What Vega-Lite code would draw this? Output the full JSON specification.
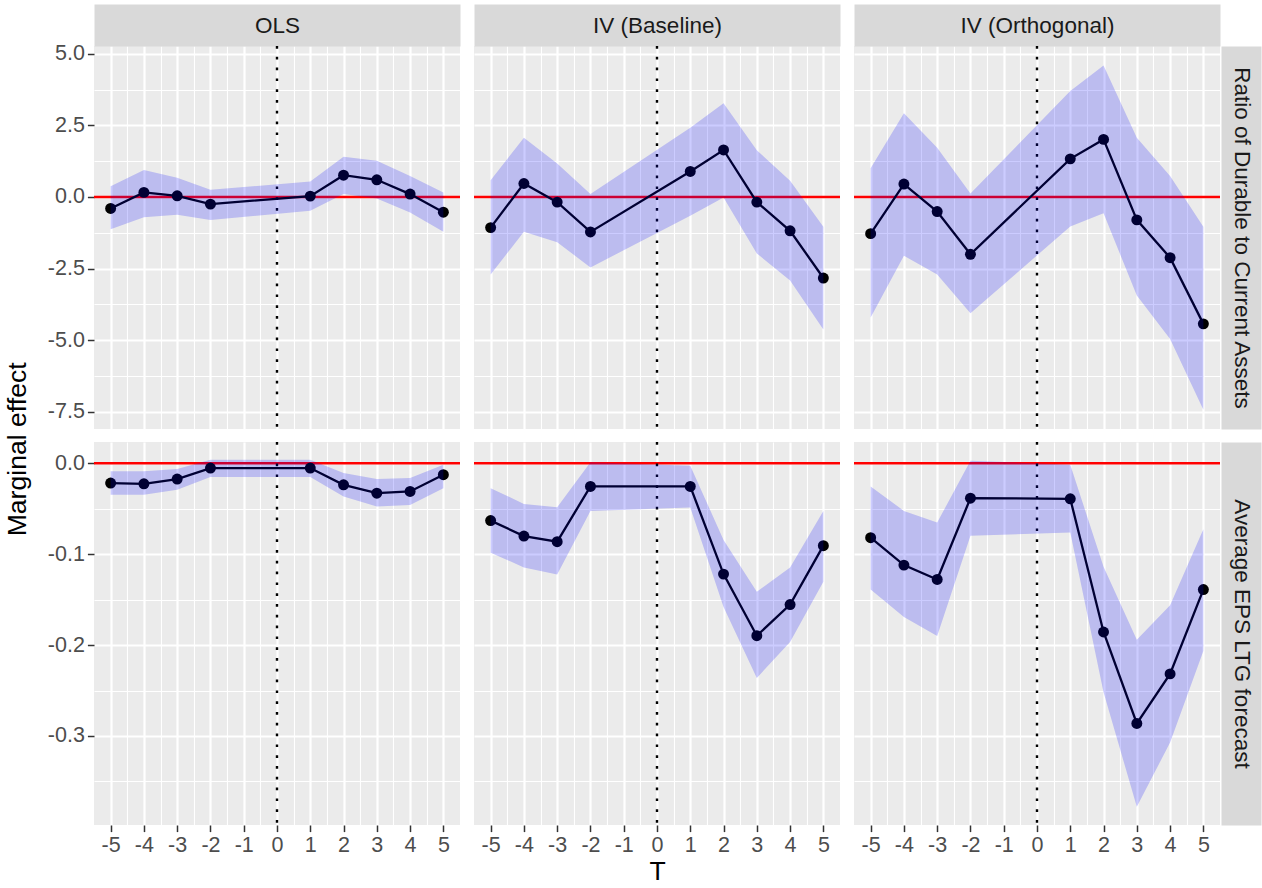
{
  "$schema": "https://vega.github.io/schema/vega-lite/v6.json",
  "padding": {"left": 4, "top": 14, "right": 10, "bottom": 0},
  "background": "#ffffff",
  "config": {
    "locale": {"number": {"decimal": ".", "thousands": ",", "grouping": [3], "currency": ["$", ""], "minus": "-"}},
    "view": {"fill": "#ebebeb", "stroke": null},
    "axis": {
      "domain": false,
      "gridColor": "#ffffff",
      "gridOpacity": 1,
      "tickColor": "#333333",
      "tickWidth": 1.5,
      "tickSize": 6.6,
      "labelColor": "#4d4d4d",
      "labelFont": "Liberation Sans",
      "labelFontSize": 21.5,
      "labelPadding": 3,
      "labelFlush": false,
      "labelOverlap": false,
      "titleFont": "Liberation Sans",
      "titleFontSize": 26.6,
      "titleFontWeight": "normal",
      "titleColor": "#000000"
    }
  },
  "data": {
    "values": [
      {"model": "OLS", "outcome": "durable", "T": -5, "est": -0.40, "lo": -1.13, "hi": 0.37},
      {"model": "OLS", "outcome": "durable", "T": -4, "est": 0.16, "lo": -0.71, "hi": 0.94},
      {"model": "OLS", "outcome": "durable", "T": -3, "est": 0.04, "lo": -0.62, "hi": 0.67},
      {"model": "OLS", "outcome": "durable", "T": -2, "est": -0.25, "lo": -0.80, "hi": 0.25},
      {"model": "OLS", "outcome": "durable", "T": 1, "est": 0.03, "lo": -0.48, "hi": 0.54},
      {"model": "OLS", "outcome": "durable", "T": 2, "est": 0.76, "lo": 0.10, "hi": 1.40},
      {"model": "OLS", "outcome": "durable", "T": 3, "est": 0.60, "lo": -0.05, "hi": 1.26},
      {"model": "OLS", "outcome": "durable", "T": 4, "est": 0.10, "lo": -0.54, "hi": 0.73},
      {"model": "OLS", "outcome": "durable", "T": 5, "est": -0.53, "lo": -1.21, "hi": 0.16},
      {"model": "IVB", "outcome": "durable", "T": -5, "est": -1.07, "lo": -2.71, "hi": 0.58},
      {"model": "IVB", "outcome": "durable", "T": -4, "est": 0.47, "lo": -1.21, "hi": 2.07},
      {"model": "IVB", "outcome": "durable", "T": -3, "est": -0.18, "lo": -1.58, "hi": 1.17},
      {"model": "IVB", "outcome": "durable", "T": -2, "est": -1.22, "lo": -2.46, "hi": 0.10},
      {"model": "IVB", "outcome": "durable", "T": 1, "est": 0.89, "lo": -0.66, "hi": 2.42},
      {"model": "IVB", "outcome": "durable", "T": 2, "est": 1.64, "lo": -0.02, "hi": 3.27},
      {"model": "IVB", "outcome": "durable", "T": 3, "est": -0.18, "lo": -1.97, "hi": 1.63},
      {"model": "IVB", "outcome": "durable", "T": 4, "est": -1.18, "lo": -2.92, "hi": 0.57},
      {"model": "IVB", "outcome": "durable", "T": 5, "est": -2.83, "lo": -4.63, "hi": -1.04},
      {"model": "IVO", "outcome": "durable", "T": -5, "est": -1.28, "lo": -4.21, "hi": 1.00},
      {"model": "IVO", "outcome": "durable", "T": -4, "est": 0.45, "lo": -2.05, "hi": 2.92},
      {"model": "IVO", "outcome": "durable", "T": -3, "est": -0.51, "lo": -2.71, "hi": 1.72},
      {"model": "IVO", "outcome": "durable", "T": -2, "est": -2.00, "lo": -4.06, "hi": 0.12},
      {"model": "IVO", "outcome": "durable", "T": 1, "est": 1.33, "lo": -1.03, "hi": 3.70},
      {"model": "IVO", "outcome": "durable", "T": 2, "est": 2.01, "lo": -0.57, "hi": 4.59},
      {"model": "IVO", "outcome": "durable", "T": 3, "est": -0.80, "lo": -3.44, "hi": 2.07},
      {"model": "IVO", "outcome": "durable", "T": 4, "est": -2.12, "lo": -4.96, "hi": 0.73},
      {"model": "IVO", "outcome": "durable", "T": 5, "est": -4.43, "lo": -7.43, "hi": -1.04},
      {"model": "OLS", "outcome": "eps", "T": -5, "est": -0.0217, "lo": -0.0346, "hi": -0.0088},
      {"model": "OLS", "outcome": "eps", "T": -4, "est": -0.0225, "lo": -0.0346, "hi": -0.0088},
      {"model": "OLS", "outcome": "eps", "T": -3, "est": -0.0173, "lo": -0.0291, "hi": -0.0063},
      {"model": "OLS", "outcome": "eps", "T": -2, "est": -0.0052, "lo": -0.0151, "hi": 0.0041},
      {"model": "OLS", "outcome": "eps", "T": 1, "est": -0.0052, "lo": -0.0151, "hi": 0.0040},
      {"model": "OLS", "outcome": "eps", "T": 2, "est": -0.0236, "lo": -0.0365, "hi": -0.0107},
      {"model": "OLS", "outcome": "eps", "T": 3, "est": -0.0328, "lo": -0.0475, "hi": -0.0173},
      {"model": "OLS", "outcome": "eps", "T": 4, "est": -0.0309, "lo": -0.0457, "hi": -0.0162},
      {"model": "OLS", "outcome": "eps", "T": 5, "est": -0.0125, "lo": -0.0273, "hi": -0.0015},
      {"model": "IVB", "outcome": "eps", "T": -5, "est": -0.0630, "lo": -0.0983, "hi": -0.0273},
      {"model": "IVB", "outcome": "eps", "T": -4, "est": -0.0800, "lo": -0.1145, "hi": -0.0446},
      {"model": "IVB", "outcome": "eps", "T": -3, "est": -0.0862, "lo": -0.1223, "hi": -0.0483},
      {"model": "IVB", "outcome": "eps", "T": -2, "est": -0.0254, "lo": -0.0523, "hi": 0.0011},
      {"model": "IVB", "outcome": "eps", "T": 1, "est": -0.0254, "lo": -0.0486, "hi": -0.0026},
      {"model": "IVB", "outcome": "eps", "T": 2, "est": -0.1219, "lo": -0.1580, "hi": -0.0843},
      {"model": "IVB", "outcome": "eps", "T": 3, "est": -0.1897, "lo": -0.2361, "hi": -0.1414},
      {"model": "IVB", "outcome": "eps", "T": 4, "est": -0.1554, "lo": -0.1967, "hi": -0.1145},
      {"model": "IVB", "outcome": "eps", "T": 5, "est": -0.0906, "lo": -0.1304, "hi": -0.0523},
      {"model": "IVO", "outcome": "eps", "T": -5, "est": -0.0818, "lo": -0.1389, "hi": -0.0254},
      {"model": "IVO", "outcome": "eps", "T": -4, "est": -0.1120, "lo": -0.1690, "hi": -0.0523},
      {"model": "IVO", "outcome": "eps", "T": -3, "est": -0.1278, "lo": -0.1900, "hi": -0.0652},
      {"model": "IVO", "outcome": "eps", "T": -2, "est": -0.0383, "lo": -0.0796, "hi": 0.0030},
      {"model": "IVO", "outcome": "eps", "T": 1, "est": -0.0390, "lo": -0.0762, "hi": -0.0015},
      {"model": "IVO", "outcome": "eps", "T": 2, "est": -0.1856, "lo": -0.2520, "hi": -0.1138},
      {"model": "IVO", "outcome": "eps", "T": 3, "est": -0.2862, "lo": -0.3780, "hi": -0.1941},
      {"model": "IVO", "outcome": "eps", "T": 4, "est": -0.2317, "lo": -0.3072, "hi": -0.1562},
      {"model": "IVO", "outcome": "eps", "T": 5, "est": -0.1389, "lo": -0.2066, "hi": -0.0726}
    ]
  },
  "title": {"text": "Marginal effect", "orient": "left", "anchor": "middle", "font": "Liberation Sans", "fontSize": 26.6, "fontWeight": "normal", "color": "#000000", "offset": 16},
  "bounds": "flush",
  "columns": 3,
  "spacing": {"row": 13, "column": 14},
  "concat": [
    {
      "width": 366, "height": 383,
      "transform": [{"filter": "datum.model === 'OLS' && datum.outcome === 'durable'"}],
      "resolve": {"axis": {"x": "independent", "y": "independent"}},
      "layer": [
        {"transform": [{"aggregate": [{"op": "count", "as": "n"}]}], "mark": {"type": "rule", "color": "#ff0000", "strokeWidth": 2.5}, "encoding": {"y": {"datum": 0, "type": "quantitative", "scale": {"domain": [-8.1, 5.27], "nice": false, "zero": false}, "axis": null}}},
        {"transform": [{"aggregate": [{"op": "count", "as": "n"}]}], "mark": {"type": "rule", "color": "#000000", "strokeWidth": 2.4, "strokeDash": [2.7, 8.1]}, "encoding": {"x": {"datum": 0, "type": "quantitative", "scale": {"domain": [-5.5, 5.5], "nice": false, "zero": false}, "axis": {"orient": "bottom", "values": [-4.5, -3.5, -2.5, -1.5, -0.5, 0.5, 1.5, 2.5, 3.5, 4.5], "grid": true, "gridWidth": 1.1, "labels": false, "ticks": false, "title": null}}}},
        {"mark": {"type": "line", "color": "#000000", "strokeWidth": 2.3}, "encoding": {
          "x": {"field": "T", "type": "quantitative", "scale": {"domain": [-5.5, 5.5], "nice": false, "zero": false}, "axis": {"orient": "bottom", "values": [-5, -4, -3, -2, -1, 0, 1, 2, 3, 4, 5], "grid": true, "gridWidth": 2.2, "labels": false, "ticks": false, "title": null}},
          "y": {"field": "est", "type": "quantitative", "scale": {"domain": [-8.1, 5.27], "nice": false, "zero": false}, "axis": {"orient": "left", "values": [-7.5, -5, -2.5, 0, 2.5, 5], "grid": true, "gridWidth": 2.2, "title": null, "format": ".1f"}}}},
        {"mark": {"type": "point", "filled": true, "color": "#000000", "opacity": 1, "size": 120}, "encoding": {
          "x": {"field": "T", "type": "quantitative", "axis": {"orient": "top", "offset": 21, "grid": false, "labels": false, "ticks": false, "domain": true, "domainColor": "#d9d9d9", "domainWidth": 42, "domainCap": "butt", "title": "OLS", "titleX": 183, "titleY": 0, "titleAlign": "center", "titleBaseline": "middle", "titleAngle": 0, "titleFontSize": 22.5, "titleColor": "#1a1a1a"}},
          "y": {"field": "est", "type": "quantitative", "axis": null}}},
        {"mark": {"type": "area", "color": "#0000ff", "opacity": 0.2}, "encoding": {"x": {"field": "T", "type": "quantitative", "axis": null}, "y": {"field": "lo", "type": "quantitative", "axis": {"orient": "left", "values": [-6.25, -3.75, -1.25, 1.25, 3.75], "grid": true, "gridWidth": 1.1, "labels": false, "ticks": false, "title": null}}, "y2": {"field": "hi"}}}
      ]
    },
    {
      "width": 366, "height": 383,
      "transform": [{"filter": "datum.model === 'IVB' && datum.outcome === 'durable'"}],
      "resolve": {"axis": {"x": "independent", "y": "independent"}},
      "layer": [
        {"transform": [{"aggregate": [{"op": "count", "as": "n"}]}], "mark": {"type": "rule", "color": "#ff0000", "strokeWidth": 2.5}, "encoding": {"y": {"datum": 0, "type": "quantitative", "scale": {"domain": [-8.1, 5.27], "nice": false, "zero": false}, "axis": null}}},
        {"transform": [{"aggregate": [{"op": "count", "as": "n"}]}], "mark": {"type": "rule", "color": "#000000", "strokeWidth": 2.4, "strokeDash": [2.7, 8.1]}, "encoding": {"x": {"datum": 0, "type": "quantitative", "scale": {"domain": [-5.5, 5.5], "nice": false, "zero": false}, "axis": {"orient": "bottom", "values": [-4.5, -3.5, -2.5, -1.5, -0.5, 0.5, 1.5, 2.5, 3.5, 4.5], "grid": true, "gridWidth": 1.1, "labels": false, "ticks": false, "title": null}}}},
        {"mark": {"type": "line", "color": "#000000", "strokeWidth": 2.3}, "encoding": {
          "x": {"field": "T", "type": "quantitative", "scale": {"domain": [-5.5, 5.5], "nice": false, "zero": false}, "axis": {"orient": "bottom", "values": [-5, -4, -3, -2, -1, 0, 1, 2, 3, 4, 5], "grid": true, "gridWidth": 2.2, "labels": false, "ticks": false, "title": null}},
          "y": {"field": "est", "type": "quantitative", "scale": {"domain": [-8.1, 5.27], "nice": false, "zero": false}, "axis": {"orient": "left", "values": [-7.5, -5, -2.5, 0, 2.5, 5], "grid": true, "gridWidth": 2.2, "labels": false, "ticks": false, "title": null}}}},
        {"mark": {"type": "point", "filled": true, "color": "#000000", "opacity": 1, "size": 120}, "encoding": {
          "x": {"field": "T", "type": "quantitative", "axis": {"orient": "top", "offset": 21, "grid": false, "labels": false, "ticks": false, "domain": true, "domainColor": "#d9d9d9", "domainWidth": 42, "domainCap": "butt", "title": "IV (Baseline)", "titleX": 183, "titleY": 0, "titleAlign": "center", "titleBaseline": "middle", "titleAngle": 0, "titleFontSize": 22.5, "titleColor": "#1a1a1a"}},
          "y": {"field": "est", "type": "quantitative", "axis": null}}},
        {"mark": {"type": "area", "color": "#0000ff", "opacity": 0.2}, "encoding": {"x": {"field": "T", "type": "quantitative", "axis": null}, "y": {"field": "lo", "type": "quantitative", "axis": {"orient": "left", "values": [-6.25, -3.75, -1.25, 1.25, 3.75], "grid": true, "gridWidth": 1.1, "labels": false, "ticks": false, "title": null}}, "y2": {"field": "hi"}}}
      ]
    },
    {
      "width": 366, "height": 383,
      "transform": [{"filter": "datum.model === 'IVO' && datum.outcome === 'durable'"}],
      "resolve": {"axis": {"x": "independent", "y": "independent"}},
      "layer": [
        {"transform": [{"aggregate": [{"op": "count", "as": "n"}]}], "mark": {"type": "rule", "color": "#ff0000", "strokeWidth": 2.5}, "encoding": {"y": {"datum": 0, "type": "quantitative", "scale": {"domain": [-8.1, 5.27], "nice": false, "zero": false}, "axis": null}}},
        {"transform": [{"aggregate": [{"op": "count", "as": "n"}]}], "mark": {"type": "rule", "color": "#000000", "strokeWidth": 2.4, "strokeDash": [2.7, 8.1]}, "encoding": {"x": {"datum": 0, "type": "quantitative", "scale": {"domain": [-5.5, 5.5], "nice": false, "zero": false}, "axis": {"orient": "bottom", "values": [-4.5, -3.5, -2.5, -1.5, -0.5, 0.5, 1.5, 2.5, 3.5, 4.5], "grid": true, "gridWidth": 1.1, "labels": false, "ticks": false, "title": null}}}},
        {"mark": {"type": "line", "color": "#000000", "strokeWidth": 2.3}, "encoding": {
          "x": {"field": "T", "type": "quantitative", "scale": {"domain": [-5.5, 5.5], "nice": false, "zero": false}, "axis": {"orient": "bottom", "values": [-5, -4, -3, -2, -1, 0, 1, 2, 3, 4, 5], "grid": true, "gridWidth": 2.2, "labels": false, "ticks": false, "title": null}},
          "y": {"field": "est", "type": "quantitative", "scale": {"domain": [-8.1, 5.27], "nice": false, "zero": false}, "axis": {"orient": "left", "values": [-7.5, -5, -2.5, 0, 2.5, 5], "grid": true, "gridWidth": 2.2, "labels": false, "ticks": false, "title": null}}}},
        {"mark": {"type": "point", "filled": true, "color": "#000000", "opacity": 1, "size": 120}, "encoding": {
          "x": {"field": "T", "type": "quantitative", "axis": {"orient": "top", "offset": 21, "grid": false, "labels": false, "ticks": false, "domain": true, "domainColor": "#d9d9d9", "domainWidth": 42, "domainCap": "butt", "title": "IV (Orthogonal)", "titleX": 183, "titleY": 0, "titleAlign": "center", "titleBaseline": "middle", "titleAngle": 0, "titleFontSize": 22.5, "titleColor": "#1a1a1a"}},
          "y": {"field": "est", "type": "quantitative", "axis": {"orient": "right", "offset": 21, "grid": false, "labels": false, "ticks": false, "domain": true, "domainColor": "#d9d9d9", "domainWidth": 40, "domainCap": "butt", "title": "Ratio of Durable to Current Assets", "titleX": 0, "titleY": 191.5, "titleAlign": "center", "titleBaseline": "middle", "titleAngle": 90, "titleFontSize": 22.5, "titleColor": "#1a1a1a"}}}},
        {"mark": {"type": "area", "color": "#0000ff", "opacity": 0.2}, "encoding": {"x": {"field": "T", "type": "quantitative", "axis": null}, "y": {"field": "lo", "type": "quantitative", "axis": {"orient": "left", "values": [-6.25, -3.75, -1.25, 1.25, 3.75], "grid": true, "gridWidth": 1.1, "labels": false, "ticks": false, "title": null}}, "y2": {"field": "hi"}}}
      ]
    },
    {
      "width": 366, "height": 383,
      "transform": [{"filter": "datum.model === 'OLS' && datum.outcome === 'eps'"}],
      "resolve": {"axis": {"x": "independent", "y": "independent"}},
      "layer": [
        {"transform": [{"aggregate": [{"op": "count", "as": "n"}]}], "mark": {"type": "rule", "color": "#ff0000", "strokeWidth": 2.5}, "encoding": {"y": {"datum": 0, "type": "quantitative", "scale": {"domain": [-0.398, 0.0235], "nice": false, "zero": false}, "axis": null}}},
        {"transform": [{"aggregate": [{"op": "count", "as": "n"}]}], "mark": {"type": "rule", "color": "#000000", "strokeWidth": 2.4, "strokeDash": [2.7, 8.1]}, "encoding": {"x": {"datum": 0, "type": "quantitative", "scale": {"domain": [-5.5, 5.5], "nice": false, "zero": false}, "axis": {"orient": "bottom", "values": [-4.5, -3.5, -2.5, -1.5, -0.5, 0.5, 1.5, 2.5, 3.5, 4.5], "grid": true, "gridWidth": 1.1, "labels": false, "ticks": false, "title": null}}}},
        {"mark": {"type": "line", "color": "#000000", "strokeWidth": 2.3}, "encoding": {
          "x": {"field": "T", "type": "quantitative", "scale": {"domain": [-5.5, 5.5], "nice": false, "zero": false}, "axis": {"orient": "bottom", "values": [-5, -4, -3, -2, -1, 0, 1, 2, 3, 4, 5], "grid": true, "gridWidth": 2.2, "format": "d", "labelPadding": 3, "title": null}},
          "y": {"field": "est", "type": "quantitative", "scale": {"domain": [-0.398, 0.0235], "nice": false, "zero": false}, "axis": {"orient": "left", "values": [-0.3, -0.2, -0.1, 0], "grid": true, "gridWidth": 2.2, "title": null, "format": ".1f"}}}},
        {"mark": {"type": "point", "filled": true, "color": "#000000", "opacity": 1, "size": 120}, "encoding": {"x": {"field": "T", "type": "quantitative", "axis": null}, "y": {"field": "est", "type": "quantitative", "axis": null}}},
        {"mark": {"type": "area", "color": "#0000ff", "opacity": 0.2}, "encoding": {"x": {"field": "T", "type": "quantitative", "axis": null}, "y": {"field": "lo", "type": "quantitative", "axis": {"orient": "left", "values": [-0.35, -0.25, -0.15, -0.05], "grid": true, "gridWidth": 1.1, "labels": false, "ticks": false, "title": null}}, "y2": {"field": "hi"}}}
      ]
    },
    {
      "width": 366, "height": 383,
      "transform": [{"filter": "datum.model === 'IVB' && datum.outcome === 'eps'"}],
      "resolve": {"axis": {"x": "independent", "y": "independent"}},
      "layer": [
        {"transform": [{"aggregate": [{"op": "count", "as": "n"}]}], "mark": {"type": "rule", "color": "#ff0000", "strokeWidth": 2.5}, "encoding": {"y": {"datum": 0, "type": "quantitative", "scale": {"domain": [-0.398, 0.0235], "nice": false, "zero": false}, "axis": null}}},
        {"transform": [{"aggregate": [{"op": "count", "as": "n"}]}], "mark": {"type": "rule", "color": "#000000", "strokeWidth": 2.4, "strokeDash": [2.7, 8.1]}, "encoding": {"x": {"datum": 0, "type": "quantitative", "scale": {"domain": [-5.5, 5.5], "nice": false, "zero": false}, "axis": {"orient": "bottom", "values": [-4.5, -3.5, -2.5, -1.5, -0.5, 0.5, 1.5, 2.5, 3.5, 4.5], "grid": true, "gridWidth": 1.1, "labels": false, "ticks": false, "title": null}}}},
        {"mark": {"type": "line", "color": "#000000", "strokeWidth": 2.3}, "encoding": {
          "x": {"field": "T", "type": "quantitative", "scale": {"domain": [-5.5, 5.5], "nice": false, "zero": false}, "axis": {"orient": "bottom", "values": [-5, -4, -3, -2, -1, 0, 1, 2, 3, 4, 5], "grid": true, "gridWidth": 2.2, "format": "d", "labelPadding": 3, "title": "T", "titlePadding": 2}},
          "y": {"field": "est", "type": "quantitative", "scale": {"domain": [-0.398, 0.0235], "nice": false, "zero": false}, "axis": {"orient": "left", "values": [-0.3, -0.2, -0.1, 0], "grid": true, "gridWidth": 2.2, "labels": false, "ticks": false, "title": null}}}},
        {"mark": {"type": "point", "filled": true, "color": "#000000", "opacity": 1, "size": 120}, "encoding": {"x": {"field": "T", "type": "quantitative", "axis": null}, "y": {"field": "est", "type": "quantitative", "axis": null}}},
        {"mark": {"type": "area", "color": "#0000ff", "opacity": 0.2}, "encoding": {"x": {"field": "T", "type": "quantitative", "axis": null}, "y": {"field": "lo", "type": "quantitative", "axis": {"orient": "left", "values": [-0.35, -0.25, -0.15, -0.05], "grid": true, "gridWidth": 1.1, "labels": false, "ticks": false, "title": null}}, "y2": {"field": "hi"}}}
      ]
    },
    {
      "width": 366, "height": 383,
      "transform": [{"filter": "datum.model === 'IVO' && datum.outcome === 'eps'"}],
      "resolve": {"axis": {"x": "independent", "y": "independent"}},
      "layer": [
        {"transform": [{"aggregate": [{"op": "count", "as": "n"}]}], "mark": {"type": "rule", "color": "#ff0000", "strokeWidth": 2.5}, "encoding": {"y": {"datum": 0, "type": "quantitative", "scale": {"domain": [-0.398, 0.0235], "nice": false, "zero": false}, "axis": null}}},
        {"transform": [{"aggregate": [{"op": "count", "as": "n"}]}], "mark": {"type": "rule", "color": "#000000", "strokeWidth": 2.4, "strokeDash": [2.7, 8.1]}, "encoding": {"x": {"datum": 0, "type": "quantitative", "scale": {"domain": [-5.5, 5.5], "nice": false, "zero": false}, "axis": {"orient": "bottom", "values": [-4.5, -3.5, -2.5, -1.5, -0.5, 0.5, 1.5, 2.5, 3.5, 4.5], "grid": true, "gridWidth": 1.1, "labels": false, "ticks": false, "title": null}}}},
        {"mark": {"type": "line", "color": "#000000", "strokeWidth": 2.3}, "encoding": {
          "x": {"field": "T", "type": "quantitative", "scale": {"domain": [-5.5, 5.5], "nice": false, "zero": false}, "axis": {"orient": "bottom", "values": [-5, -4, -3, -2, -1, 0, 1, 2, 3, 4, 5], "grid": true, "gridWidth": 2.2, "format": "d", "labelPadding": 3, "title": null}},
          "y": {"field": "est", "type": "quantitative", "scale": {"domain": [-0.398, 0.0235], "nice": false, "zero": false}, "axis": {"orient": "left", "values": [-0.3, -0.2, -0.1, 0], "grid": true, "gridWidth": 2.2, "labels": false, "ticks": false, "title": null}}}},
        {"mark": {"type": "point", "filled": true, "color": "#000000", "opacity": 1, "size": 120}, "encoding": {
          "x": {"field": "T", "type": "quantitative", "axis": null},
          "y": {"field": "est", "type": "quantitative", "axis": {"orient": "right", "offset": 21, "grid": false, "labels": false, "ticks": false, "domain": true, "domainColor": "#d9d9d9", "domainWidth": 40, "domainCap": "butt", "title": "Average EPS LTG forecast", "titleX": 0, "titleY": 191.5, "titleAlign": "center", "titleBaseline": "middle", "titleAngle": 90, "titleFontSize": 22.5, "titleColor": "#1a1a1a"}}}},
        {"mark": {"type": "area", "color": "#0000ff", "opacity": 0.2}, "encoding": {"x": {"field": "T", "type": "quantitative", "axis": null}, "y": {"field": "lo", "type": "quantitative", "axis": {"orient": "left", "values": [-0.35, -0.25, -0.15, -0.05], "grid": true, "gridWidth": 1.1, "labels": false, "ticks": false, "title": null}}, "y2": {"field": "hi"}}}
      ]
    }
  ]
}
